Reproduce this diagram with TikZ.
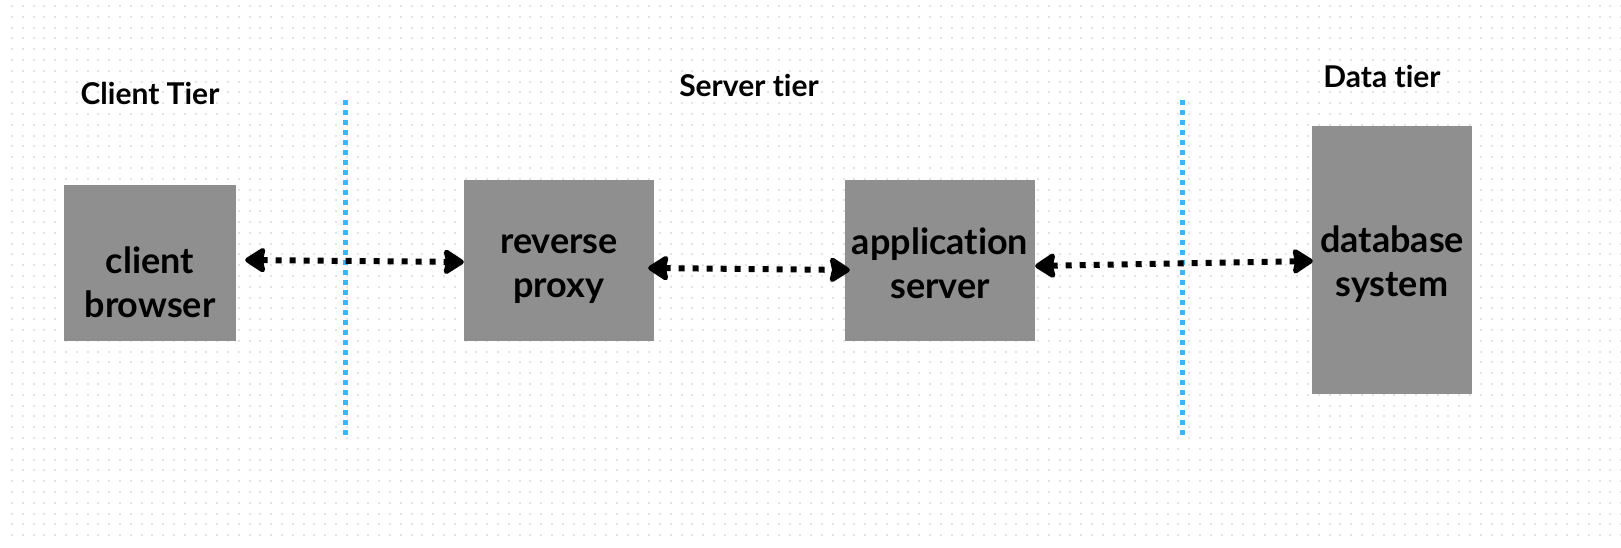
\documentclass[tikz,border=0pt]{standalone}
\usepackage{fontspec}
\setmainfont{Lato}[Ligatures=NoCommon]
\usepackage{xcolor}
\definecolor{colorBox}{RGB}{143,143,143}
\definecolor{colorTierLine}{RGB}{56,182,255}
\definecolor{colorGrid}{RGB}{228,228,228}
\usetikzlibrary{arrows.meta, positioning}
\tikzset{tier text/.style={font=\fontsize{30}{35}\selectfont\bfseries}}
% two lines of box text, struts fix where the baselines fall
\newcommand{\boxlines}[3][36pt]{\rule{0pt}{#1}#2\\#3\rule[-4pt]{0pt}{4pt}}

\begin{document}
\begin{tikzpicture}[x=1pt, y=-1pt, >={Stealth[length=23pt, width=29pt, inset=3pt, round]},
  box/.style={fill=colorBox, inner sep=0pt, align=center, font=\fontsize{36}{44}\selectfont\bfseries},
  link/.style={<->, line width=6pt, dash pattern=on 6pt off 8pt},
  tier line/.style={colorTierLine, line width=5pt, dash pattern=on 5pt off 5pt}]
\useasboundingbox (0,0) rectangle (1621,547);
% dotted background
\foreach \y in {6,16.8,...,546} \draw[colorGrid, line width=2pt, dash pattern=on 2pt off 8.8pt] (11,\y) -- (1621,\y);
% tiers
\node[tier text] (ct) at (150,93) {Client Tier};
\node[tier text] (st) at (749,85) {Server tier};
\node[tier text] (dt) at (1382,76) {Data tier};
\coordinate (s1a) at (345,100);
\coordinate (s1b) at (345,438);
\coordinate (s2a) at (1182,100);
\coordinate (s2b) at (1182,438);
\draw[tier line] (s1a) -- (s1b);
\draw[tier line] (s2a) -- (s2b);
% boxes
\node[box, minimum width=172pt, minimum height=156pt] (cb) at (150,263) {\boxlines[68pt]{client}{browser}};
\node[box, minimum width=190pt, minimum height=161pt] (rp) at (559,260.5) {\boxlines{reverse}{proxy}};
\node[box, minimum width=190pt, minimum height=161pt] (as) at (940,260.5) {\boxlines{application}{server}};
\node[box, minimum width=160pt, minimum height=268pt] (ds) at (1392,260) {\boxlines{database}{system}};
% links
\draw[link] ([xshift=9pt, yshift=3pt]cb.east) -- ([yshift=-1.5pt]rp.west);
\draw[link] ([xshift=-6pt, yshift=-7.5pt]rp.east) -- ([xshift=5pt, yshift=-9.5pt]as.west);
\draw[link] ([yshift=-5.5pt]as.east) -- ([xshift=1pt, yshift=-1pt]ds.west);
\end{tikzpicture}
\end{document}
